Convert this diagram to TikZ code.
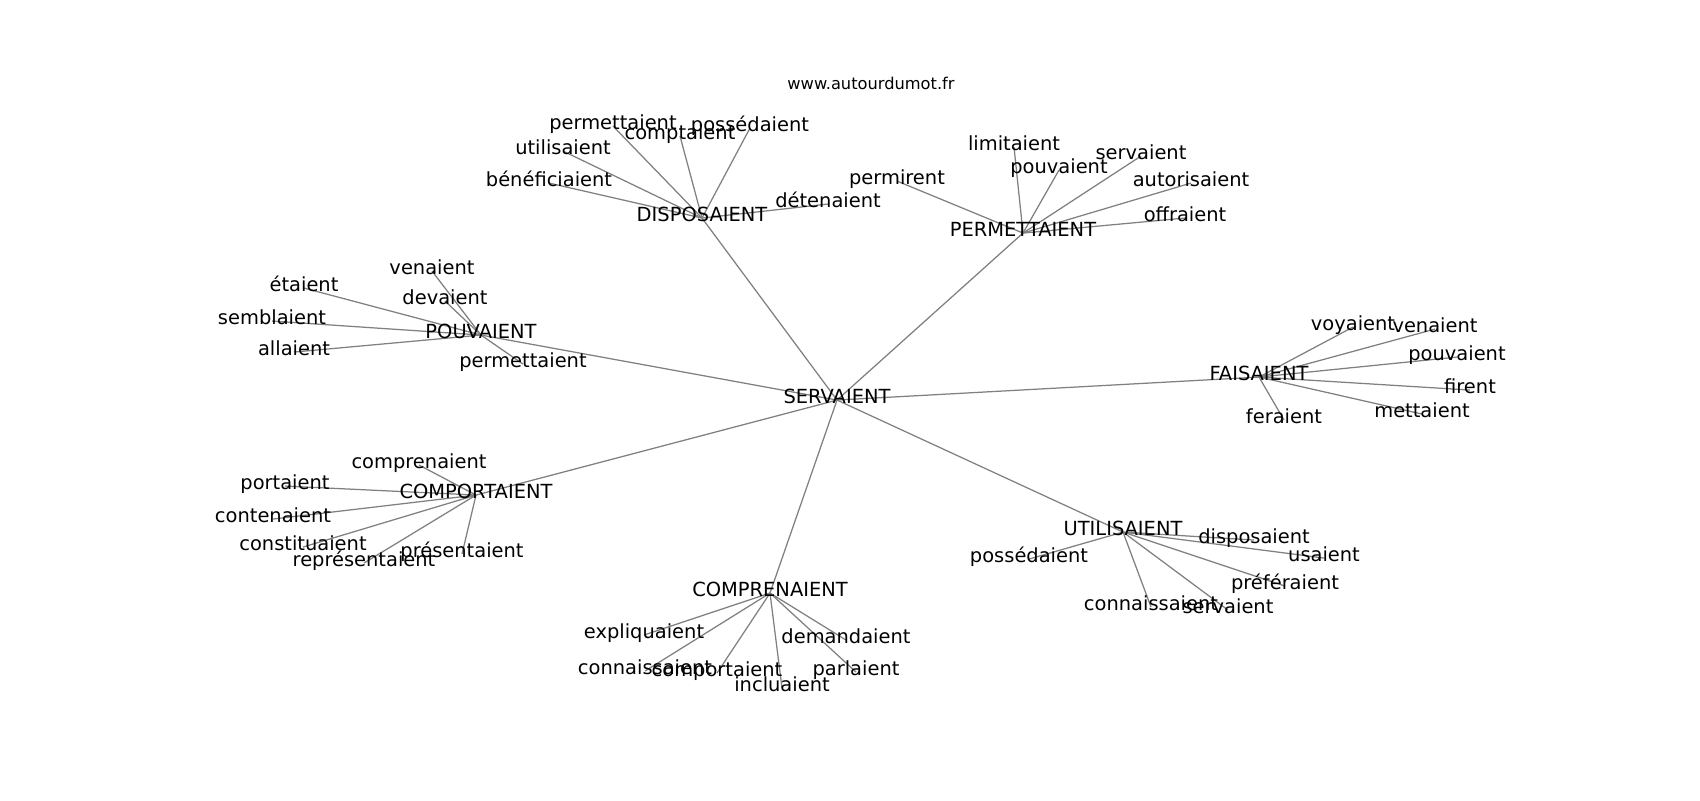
\documentclass[tikz,border=0pt]{standalone}
\usepackage{fontspec}
\setmainfont{DejaVu Sans}
\usetikzlibrary{backgrounds}
\begin{document}
\begin{tikzpicture}[x=0.72pt,y=-0.72pt,
  lbl/.style={inner sep=0pt, yshift=-2.2pt, font=\fontsize{14}{16}\selectfont, text height=0.76em, text depth=0.21em},
  ttl/.style={inner sep=0pt, font=\fontsize{11.7}{14}\selectfont},
  edge/.style={draw=black!50, line width=0.9pt}]
\useasboundingbox (0,0) rectangle (1700,800);
\node[ttl] (title) at (871,83) {www.autourdumot.fr};
% hubs
\node[lbl] (S) at (837,397) {SERVAIENT};
\node[lbl] (D) at (702,215) {DISPOSAIENT};
\node[lbl] (P) at (1023,230) {PERMETTAIENT};
\node[lbl] (PV) at (481,332) {POUVAIENT};
\node[lbl] (F) at (1259,374) {FAISAIENT};
\node[lbl] (CO) at (476,492) {COMPORTAIENT};
\node[lbl] (CR) at (770,590) {COMPRENAIENT};
\node[lbl] (U) at (1123,529) {UTILISAIENT};
% DISPOSAIENT
\node[lbl] (d1) at (613,123) {permettaient};
\node[lbl] (d2) at (680,133) {comptaient};
\node[lbl] (d3) at (750,125) {possédaient};
\node[lbl] (d4) at (563,148) {utilisaient};
\node[lbl] (d5) at (549,180) {bénéficiaient};
\node[lbl] (d6) at (828,201) {détenaient};
% PERMETTAIENT
\node[lbl] (p1) at (1014,144) {limitaient};
\node[lbl] (p2) at (1059,167) {pouvaient};
\node[lbl] (p3) at (1141,153) {servaient};
\node[lbl] (p4) at (897,178) {permirent};
\node[lbl] (p5) at (1191,180) {autorisaient};
\node[lbl] (p6) at (1185,215) {offraient};
% POUVAIENT
\node[lbl] (v1) at (432,268) {venaient};
\node[lbl] (v2) at (304,285) {étaient};
\node[lbl] (v3) at (445,298) {devaient};
\node[lbl] (v4) at (272,318) {semblaient};
\node[lbl] (v5) at (294,349) {allaient};
\node[lbl] (v6) at (523,361) {permettaient};
% FAISAIENT
\node[lbl] (f1) at (1353,324) {voyaient};
\node[lbl] (f2) at (1435,326) {venaient};
\node[lbl] (f3) at (1457,354) {pouvaient};
\node[lbl] (f4) at (1470,387) {firent};
\node[lbl] (f5) at (1422,411) {mettaient};
\node[lbl] (f6) at (1284,417) {feraient};
% COMPORTAIENT
\node[lbl] (c1) at (419,462) {comprenaient};
\node[lbl] (c2) at (285,483) {portaient};
\node[lbl] (c3) at (273,516) {contenaient};
\node[lbl] (c4) at (303,544) {constituaient};
\node[lbl] (c5) at (364,560) {représentaient};
\node[lbl] (c6) at (462,551) {présentaient};
% COMPRENAIENT
\node[lbl] (r1) at (644,632) {expliquaient};
\node[lbl] (r2) at (645,668) {connaissaient};
\node[lbl] (r3) at (717,670) {comportaient};
\node[lbl] (r4) at (782,685) {incluaient};
\node[lbl] (r5) at (846,637) {demandaient};
\node[lbl] (r6) at (856,669) {parlaient};
% UTILISAIENT
\node[lbl] (u1) at (1029,556) {possédaient};
\node[lbl] (u2) at (1254,537) {disposaient};
\node[lbl] (u3) at (1324,555) {usaient};
\node[lbl] (u4) at (1285,583) {préféraient};
\node[lbl] (u5) at (1151,604) {connaissaient};
\node[lbl] (u6) at (1228,607) {servaient};
\begin{pgfonlayer}{background}
\fill[white] (0,0) rectangle (1700,800);
\foreach \h in {D,P,PV,F,CO,CR,U} \draw[edge] (S.center) -- (\h.center);
\foreach \i in {1,...,6} {
  \draw[edge] (D.center) -- (d\i.center);
  \draw[edge] (P.center) -- (p\i.center);
  \draw[edge] (PV.center) -- (v\i.center);
  \draw[edge] (F.center) -- (f\i.center);
  \draw[edge] (CO.center) -- (c\i.center);
  \draw[edge] (CR.center) -- (r\i.center);
  \draw[edge] (U.center) -- (u\i.center);
}
\end{pgfonlayer}
\end{tikzpicture}
\end{document}
